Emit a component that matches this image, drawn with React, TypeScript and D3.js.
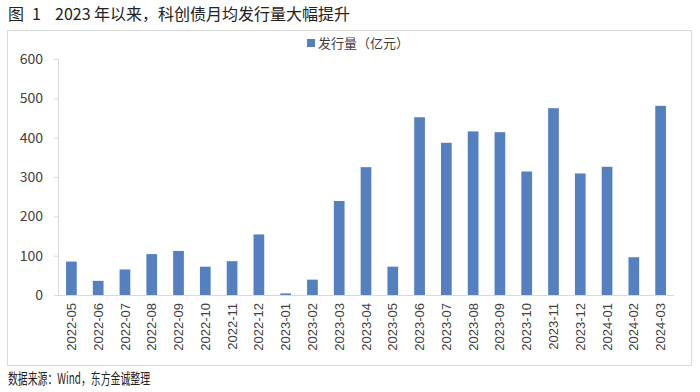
import React, { useEffect } from "react";
import * as d3 from "d3";

const months = [
  "2022-05", "2022-06", "2022-07", "2022-08", "2022-09", "2022-10", "2022-11", "2022-12",
  "2023-01", "2023-02", "2023-03", "2023-04", "2023-05", "2023-06", "2023-07", "2023-08",
  "2023-09", "2023-10", "2023-11", "2023-12", "2024-01", "2024-02", "2024-03",
];
const issuance = [
  85, 36, 65, 104, 112, 72, 86, 154,
  4, 39, 239, 325, 72, 452, 387, 416,
  414, 314, 475, 309, 326, 96, 481,
];
const yTicks = [0, 100, 200, 300, 400, 500, 600];

const W = 700, H = 392;
const font = "'Noto Sans CJK SC', 'Noto Sans', sans-serif";
const barColor = "#5580C0";
const textColor = "#404040";

const App = () => {
  useEffect(() => {
    document.body.style.margin = "0";
  }, []);

  const x = d3.scaleBand<string>().domain(months).range([58, 674]).paddingInner(0.6).paddingOuter(0.3);
  const y = d3.scaleLinear().domain([0, 600]).range([295, 59]);

  return (
    <svg width={W} height={H} style={{ display: "block", background: "#fff" }} fontFamily={font}>
      {/* title */}
      <text x={8} y={20} fontSize={16} fill="#222">图</text>
      <text x={32} y={20} fontSize={16} fill="#222">1</text>
      <text x={55} y={20} fontSize={16} fill="#222">2023 年以来，科创债月均发行量大幅提升</text>
      <rect x={7.5} y={30.5} width={684} height={335} fill="none" stroke="#d9d9d9" />

      {/* legend */}
      <rect x={307} y={39} width={8} height={8} fill={barColor} />
      <text x={318} y={47.5} fontSize={13} fill={textColor}>发行量（亿元）</text>

      {/* y axis */}
      <line x1={58.5} x2={58.5} y1={y(600)} y2={y(0)} stroke="#d9d9d9" />
      {yTicks.map((t) => (
        <g key={t}>
          <line x1={54} x2={58.5} y1={y(t) + 0.5} y2={y(t) + 0.5} stroke="#d9d9d9" />
          <text x={43} y={y(t)} dy="0.35em" textAnchor="end" fontSize={14} fill={textColor}>{t}</text>
        </g>
      ))}

      {/* bars */}
      {months.map((m, i) => (
        <rect key={m} x={x(m)} y={y(issuance[i])} width={x.bandwidth()} height={y(0) - y(issuance[i])} fill={barColor} />
      ))}
      <line x1={58} x2={674} y1={y(0) + 0.5} y2={y(0) + 0.5} stroke="#d9d9d9" />

      {/* x labels */}
      {months.map((m) => {
        const cx = (x(m) ?? 0) + x.bandwidth() / 2;
        return (
          <text key={m} transform={`translate(${cx},${303}) rotate(-90)`} textAnchor="end" dy="0.35em"
            fontSize={13} fontFamily="'Liberation Sans', Arial, sans-serif" fill={textColor}>
            {m}
          </text>
        );
      })}

      <text x={8} y={384} fontSize={15} fill="#222" textLength={142} lengthAdjust="spacingAndGlyphs">数据来源：Wind，东方金诚整理</text>
    </svg>
  );
};

export default App;
